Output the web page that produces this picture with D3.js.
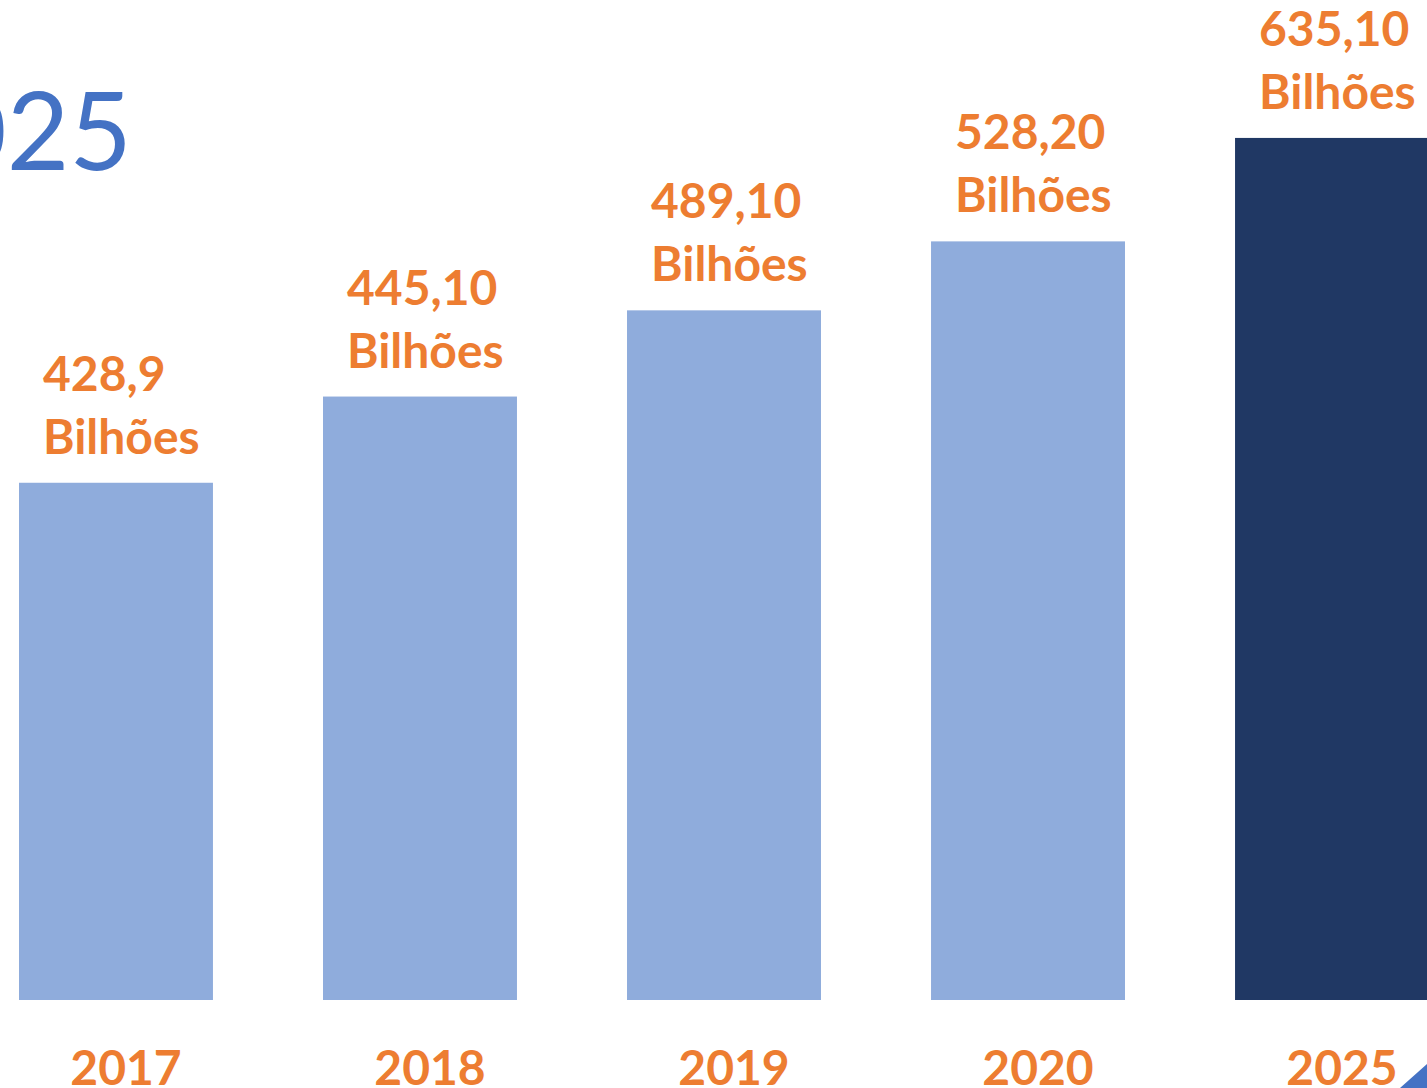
<!DOCTYPE html>
<html>
<head>
<meta charset="utf-8">
<script src="https://cdn.jsdelivr.net/npm/d3@7"></script>
<style>
  body { margin: 0; background: #fff; overflow: hidden; }
  text { font-family: Lato, "Open Sans", sans-serif; }
</style>
</head>
<body>
<div id="chart"></div>
<script>
// data
var years = ["2017", "2018", "2019", "2020", "2025"];
var barValues = [300, 350, 400, 440, 500];          // plotted bar heights
var labelValues = ["428,9", "445,10", "489,10", "528,20", "635,10"];
var unitLabel = "Bilhões";
var barColors = ["#8FACDC", "#8FACDC", "#8FACDC", "#8FACDC", "#203864"];

var width = 1427, height = 1088;

var svg = d3.select("#chart")
  .append("svg")
    .attr("width", width)
    .attr("height", height);

var data = years.map(function(y, i) {
  return {year: y, value: barValues[i], label: labelValues[i], color: barColors[i]};
});

// X axis
var x = d3.scaleBand()
  .domain(years)
  .range([19, 1429])
  .paddingInner(0.362)
  .paddingOuter(0);

// Y axis
var y = d3.scaleLinear()
  .domain([0, 580])
  .range([1000, 0]);

// title (clipped at the left edge)
svg.append("text")
  .attr("x", 132)
  .attr("y", 170)
  .attr("text-anchor", "end")
  .style("font-size", "108px")
  .style("font-weight", 400)
  .style("fill", "#4472C4")
  .text("2025");

// bars
svg.append("g")
  .selectAll("rect")
  .data(data)
  .enter().append("rect")
    .attr("x", function(d) { return x(d.year); })
    .attr("y", function(d) { return y(d.value); })
    .attr("width", x.bandwidth())
    .attr("height", function(d) { return y(0) - y(d.value); })
    .attr("fill", function(d) { return d.color; });

// value labels, left aligned over each bar
var labX = function(d) { return x(d.year) + 24; };
var lab = svg.append("g")
  .selectAll("text")
  .data(data)
  .enter().append("text")
    .attr("x", labX)
    .attr("y", function(d) { return y(d.value) - 29; })
    .style("font-size", "48px")
    .style("font-weight", 700)
    .style("fill", "#ED7D31");
lab.append("tspan")
  .attr("x", labX)
  .attr("dy", "-63")
  .text(function(d) { return d.label; });
lab.append("tspan")
  .attr("x", labX)
  .attr("dy", "63")
  .text(unitLabel);

// category axis labels
var xAxis = svg.append("g")
  .attr("transform", "translate(10,0)")
  .call(d3.axisBottom(x).tickSize(0).tickPadding(0));
xAxis.select(".domain").remove();
xAxis.selectAll("text")
  .attr("y", 1085)
  .attr("dy", 0)
  .style("font-family", "Lato, sans-serif")
  .style("font-size", "48px")
  .style("font-weight", 700)
  .style("fill", "#ED7D31");

// corner decoration
svg.append("path")
  .attr("d", "M1400,1088 L1427,1064 L1427,1088 Z")
  .attr("fill", "#4472C4");
</script>
</body>
</html>
